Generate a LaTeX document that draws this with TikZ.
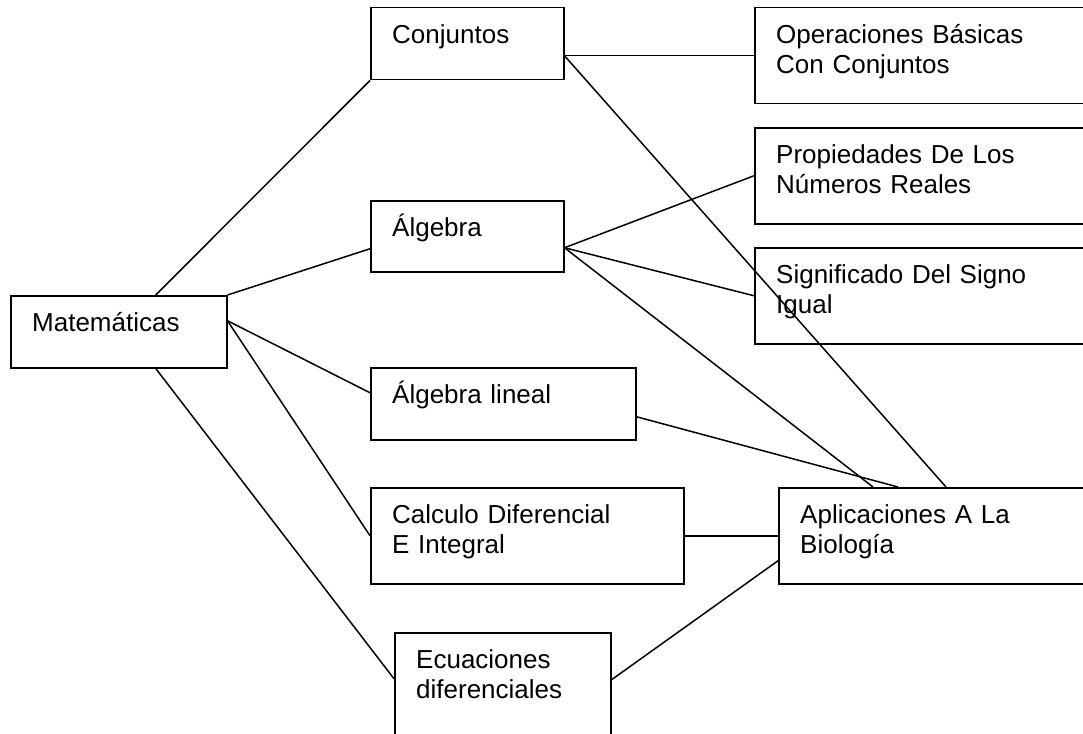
\documentclass[tikz,border=0pt]{standalone}
\usepackage{fontspec}
\setmainfont{Liberation Sans}
\usetikzlibrary{positioning}

\begin{document}
\begin{tikzpicture}[
    x=1pt, y=-1pt, % Work in pixel units, y pointing down
    box/.style={draw, line width=1.5pt, inner sep=0pt, anchor=north west}, % Style for the boxes
    txt/.style={anchor=base west, inner sep=0pt, text width=330pt, align=left,
                font=\fontsize{26}{30}\selectfont}, % Style for the box texts
    link/.style={line width=1.5pt} % Style for the connectors
]

% Page frame
\clip (0,0) rectangle (1083,733);
\fill[white] (0,0) rectangle (1083,733);

% Root box
\node[box, minimum width=216pt, minimum height=72pt] (mat) at (10,295) {};

% Middle column
\node[box, minimum width=193pt, minimum height=72pt] (conj) at (370,7) {};
\node[box, minimum width=193pt, minimum height=71pt] (alg) at (370,200) {};
\node[box, minimum width=265pt, minimum height=72pt] (alglin) at (370,367) {};
\node[box, minimum width=313pt, minimum height=96pt] (calc) at (370,487) {};
\node[box, minimum width=216pt, minimum height=110pt] (ecu) at (394,632) {};

% Right column (runs off the page)
\node[box, minimum width=346pt, minimum height=96pt] (oper) at (754,7) {};
\node[box, minimum width=346pt, minimum height=96pt] (prop) at (754,127) {};
\node[box, minimum width=346pt, minimum height=96pt] (sig) at (754,247) {};
\node[box, minimum width=322pt, minimum height=96pt] (apli) at (778,487) {};

% Box texts
\node[txt] (matlbl) at ([shift={(22pt,-36.5pt)}]mat.north west) {Matemáticas};
\node[txt] (conjlbl) at ([shift={(22pt,-36.5pt)}]conj.north west) {Conjuntos};
\node[txt] (alglbl) at ([shift={(22pt,-36.5pt)}]alg.north west) {Álgebra};
\node[txt] (alglinlbl) at ([shift={(22pt,-36.5pt)}]alglin.north west) {Álgebra lineal};
\node[txt] (calclbl) at ([shift={(22pt,-36.5pt)}]calc.north west) {Calculo Diferencial\\E Integral};
\node[txt] (eculbl) at ([shift={(22pt,-36.5pt)}]ecu.north west) {Ecuaciones\\diferenciales};
\node[txt] (operlbl) at ([shift={(22pt,-36.5pt)}]oper.north west) {Operaciones Básicas\\Con Conjuntos};
\node[txt] (proplbl) at ([shift={(22pt,-36.5pt)}]prop.north west) {Propiedades De Los\\Números Reales};
\node[txt] (siglbl) at ([shift={(22pt,-36.5pt)}]sig.north west) {Significado Del Signo\\Igual};
\node[txt] (aplilbl) at ([shift={(22pt,-36.5pt)}]apli.north west) {Aplicaciones A La\\Biología};

% Connectors from the root
\draw[link] ([xshift=37pt]mat.north) -- (conj.south west);
\draw[link] (mat.north east) -- ([yshift=-12.5pt]alg.west);
\draw[link] ([yshift=11pt]mat.east) -- ([yshift=11pt]alglin.west);
\draw[link] ([yshift=11pt]mat.east) -- (calc.west);
\draw[link] ([xshift=37pt]mat.south) -- ([yshift=9pt]ecu.west);

% Connectors to the right column
\draw[link] ([yshift=-12pt]conj.east) -- (oper.west);
\draw[link] ([yshift=-12pt]conj.east) -- ([xshift=168pt]apli.north west);
\draw[link] ([yshift=-11.5pt]alg.east) -- (prop.west);
\draw[link] ([yshift=-11.5pt]alg.east) -- (sig.west);
\draw[link] ([yshift=-11.5pt]alg.east) -- ([xshift=95pt]apli.north west);
\draw[link] ([yshift=-13pt]alglin.east) -- ([xshift=120pt]apli.north west);
\draw[link] (calc.east) -- (apli.west);
\draw[link] ([yshift=8pt]ecu.east) -- ([yshift=-25pt]apli.west);

\end{tikzpicture}
\end{document}
